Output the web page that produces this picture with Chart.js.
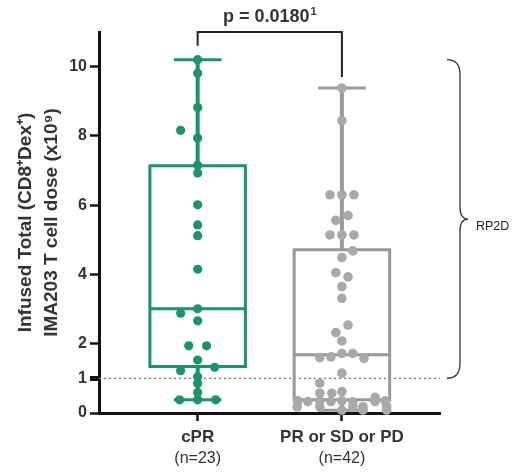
<!DOCTYPE html>
<html lang="en">
<head>
<meta charset="UTF-8">
<title>IMA203 dose by response</title>
<script src="https://cdn.jsdelivr.net/npm/chart.js"></script>
<style>
  html, body { margin: 0; padding: 0; background: #fff; }
</style>
</head>
<body>
<canvas id="chart" width="524" height="474"></canvas>
<script>
const groups = ['cPR', 'PR or SD or PD'];
const groupN = ['(n=23)', '(n=42)'];
const yTicks = [0, 1, 2, 4, 6, 8, 10];

// individual doses (x10^9) and the horizontal jitter of each dot, in category units
const cprValues = [10.2, 9.81, 8.82, 8.16, 7.94, 7.15, 6.93, 6.01, 5.43, 5.12, 4.15, 3.01,
  2.88, 2.66, 1.94, 1.94, 1.53, 1.32, 1.22, 1.05, 0.86, 0.59, 0.38, 0.38, 0.38];
const cprJitter = [0, 0, 0, -0.118, 0, 0, 0, 0, 0, 0, 0, 0,
  -0.118, 0, -0.062, 0.062, 0, 0.118, -0.118, 0, 0, 0, -0.125, 0, 0.125];

const otherValues = [9.38, 8.44, 6.30, 6.30, 6.30, 5.70, 5.56, 5.14, 5.14, 5.14, 4.68, 4.49,
  4.05, 3.93, 3.65, 3.31, 2.54, 2.32, 2.08, 1.72, 1.72, 1.60, 1.62, 1.58, 1.15, 0.86,
  0.62, 0.57, 0.57, 0.45, 0.35, 0.33, 0.35, 0.33, 0.35, 0.32, 0.33, 0.35,
  0.18, 0.18, 0.18, 0.18, 0.18, 0.08, 0.08, 0.08];
const otherJitter = [0, 0, -0.083, 0, 0.083, 0.042, -0.042, -0.083, 0, 0.083, 0.076, 0,
  -0.042, 0.042, 0, 0, 0.042, -0.042, 0, 0, 0.076, -0.153, -0.076, 0.153, 0, -0.153,
  0, -0.153, -0.07, 0.23, -0.306, -0.236, -0.153, -0.076, 0, 0.076, 0.23, 0.3,
  -0.31, -0.153, 0.076, 0.146, 0.31, 0, 0.146, 0.31];

// box stats: min, q1, median, q3, max
const cprBox = [0.38, 1.34, 3.01, 7.14, 10.2];
const otherBox = [0.08, 0.38, 1.68, 4.71, 9.38];

const pText = 'p = 0.0180';
const pSup = '1';
const rp2dRange = [1, 10.2];
const rp2dLabel = 'RP2D';

const GREEN = '#1d9468';
const GREY_LINE = '#999999';
const GREY_DOT = '#a9a9a9';
const FONT = '"Liberation Sans", Arial, sans-serif';
const boxHalf = 0.331, capHalf = 0.165;

function boxSets(center, s, color) {
  const [mn, q1, med, q3, mx] = s;
  const base = { showLine: true, pointRadius: 0, borderColor: color, fill: false, order: 1, clip: false };
  return [
    { ...base, borderWidth: 3, borderCapStyle: 'square', borderJoinStyle: 'miter',
      data: [{x: center - boxHalf, y: q1}, {x: center + boxHalf, y: q1}, {x: center + boxHalf, y: q3},
             {x: center - boxHalf, y: q3}, {x: center - boxHalf, y: q1}] },
    { ...base, borderWidth: 3, data: [{x: center - boxHalf, y: med}, {x: center + boxHalf, y: med}] },
    { ...base, borderWidth: 4, data: [{x: center, y: q3}, {x: center, y: mx}] },
    { ...base, borderWidth: 4, data: [{x: center, y: mn}, {x: center, y: q1}] },
    { ...base, borderWidth: 3, data: [{x: center - capHalf, y: mx}, {x: center + capHalf, y: mx}] },
    { ...base, borderWidth: 3, data: [{x: center - capHalf, y: mn}, {x: center + capHalf, y: mn}] }
  ];
}

const xMin = 0.316, xMax = 2.68;

const extras = {
  id: 'extras',
  afterDraw(chart) {
    const { ctx, chartArea, scales: { x, y } } = chart;
    ctx.save();
    // significance bracket
    const x1 = x.getPixelForValue(1), x2 = x.getPixelForValue(2);
    const yb = y.getPixelForValue(11);
    ctx.strokeStyle = '#222';
    ctx.lineWidth = 2;
    ctx.beginPath();
    ctx.moveTo(x1, y.getPixelForValue(10.6));
    ctx.lineTo(x1, yb);
    ctx.lineTo(x2, yb);
    ctx.lineTo(x2, y.getPixelForValue(9.7));
    ctx.stroke();

    ctx.fillStyle = '#333';
    ctx.font = 'bold 18px ' + FONT;
    const w = ctx.measureText(pText).width;
    ctx.font = 'bold 11px ' + FONT;
    const ws = ctx.measureText(pSup).width;
    const sx = (x1 + x2) / 2 - (w + ws + 1) / 2;
    ctx.textBaseline = 'alphabetic';
    ctx.textAlign = 'left';
    ctx.font = 'bold 18px ' + FONT;
    ctx.fillText(pText, sx, yb - 10);
    ctx.font = 'bold 11px ' + FONT;
    ctx.fillText(pSup, sx + w + 1, yb - 17);

    // RP2D brace
    const bx = chartArea.right + 7;
    const top = y.getPixelForValue(rp2dRange[1]), bot = y.getPixelForValue(rp2dRange[0]);
    const mid = (top + bot) / 2, xm = bx + 13, xt = bx + 21;
    ctx.strokeStyle = '#333';
    ctx.lineWidth = 1.3;
    ctx.beginPath();
    ctx.moveTo(bx, top);
    ctx.quadraticCurveTo(xm, top, xm, top + 15);
    ctx.lineTo(xm, mid - 12);
    ctx.quadraticCurveTo(xm, mid, xt, mid);
    ctx.quadraticCurveTo(xm, mid, xm, mid + 12);
    ctx.lineTo(xm, bot - 15);
    ctx.quadraticCurveTo(xm, bot, bx, bot);
    ctx.stroke();
    ctx.font = '12.5px ' + FONT;
    ctx.fillStyle = '#222';
    ctx.textBaseline = 'middle';
    ctx.fillText(rp2dLabel, xt + 8, mid + 8);
    ctx.restore();
  }
};

const datasets = [
  { data: cprValues.map((v, i) => ({ x: 1 + cprJitter[i], y: v })),
    backgroundColor: GREEN, borderColor: GREEN, borderWidth: 0, pointRadius: 4.6, order: 0, clip: false },
  { data: otherValues.map((v, i) => ({ x: 2 + otherJitter[i], y: v })),
    backgroundColor: GREY_DOT, borderColor: GREY_DOT, borderWidth: 0, pointRadius: 4.8, order: 0, clip: false },
  ...boxSets(1, cprBox, GREEN),
  ...boxSets(2, otherBox, GREY_LINE),
  { showLine: true, pointRadius: 0, borderColor: '#777', borderWidth: 1.3, borderDash: [2, 3], order: 2,
    data: [{ x: xMin, y: 1 }, { x: xMax, y: 1 }] }
];

new Chart(document.getElementById('chart'), {
  type: 'scatter',
  data: { datasets },
  options: {
    responsive: false,
    animation: false,
    layout: { padding: { top: 32, right: 84, bottom: 3, left: 0 } },
    plugins: { legend: { display: false }, tooltip: { enabled: false } },
    scales: {
      x: {
        type: 'linear', position: 'bottom', min: xMin, max: xMax, weight: 0,
        afterBuildTicks: s => { s.ticks = [{ value: 1 }, { value: 2 }]; },
        afterFit: s => { s.height = 30; },
        ticks: { callback: v => groups[v - 1], color: '#333', font: { family: FONT, size: 17, weight: 'bold' }, padding: 6, maxRotation: 0 },
        grid: { drawOnChartArea: false, tickLength: 8, tickWidth: 2.5, tickColor: '#111' },
        border: { color: '#111', width: 3 }
      },
      x2: {
        type: 'linear', position: 'bottom', min: xMin, max: xMax, weight: 1,
        afterBuildTicks: s => { s.ticks = [{ value: 1 }, { value: 2 }]; },
        afterFit: s => { s.height = 28; },
        ticks: { callback: v => groupN[v - 1], color: '#333', font: { family: FONT, size: 16 }, padding: 6, maxRotation: 0 },
        grid: { display: false, drawTicks: false },
        border: { display: false }
      },
      y: {
        min: 0, max: 11,
        afterBuildTicks: s => { s.ticks = yTicks.map(v => ({ value: v })); },
        afterFit: s => { s.width = 99; },
        ticks: { color: '#333', font: { family: FONT, size: 16, weight: 'bold' }, padding: 3 },
        grid: { drawOnChartArea: false, tickLength: 9, tickColor: '#111',
          tickWidth: c => (c.tick && c.tick.value === 1 ? 5 : 2.5) },
        border: { color: '#111', width: 3 },
        title: {
          display: true,
          text: ['Infused Total (CD8\u207ADex\u207A)', 'IMA203 T cell dose (x10\u2079)'],
          color: '#333',
          font: { family: FONT, size: 19, weight: 'bold', lineHeight: 1.35 },
          padding: { top: 13, bottom: 0 }
        }
      }
    }
  },
  plugins: [extras]
});
</script>
</body>
</html>
